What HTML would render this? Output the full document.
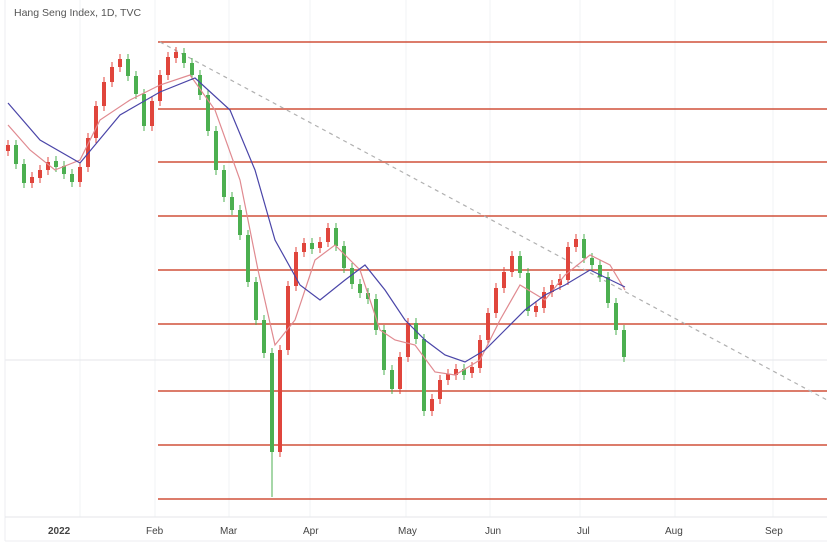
<!DOCTYPE html>
<html><head><meta charset="utf-8"><style>
body{margin:0;background:#fff;width:827px;height:551px;overflow:hidden;font-family:"Liberation Sans",sans-serif}
</style></head><body>
<svg width="827" height="551" xmlns="http://www.w3.org/2000/svg">
<rect x="0" y="0" width="827" height="551" fill="#fff"/>
<g stroke="#f0f3f6" stroke-width="1">
<line x1="80" y1="0" x2="80" y2="517"/><line x1="155" y1="0" x2="155" y2="517"/><line x1="229" y1="0" x2="229" y2="517"/><line x1="310" y1="0" x2="310" y2="517"/><line x1="406" y1="0" x2="406" y2="517"/><line x1="490" y1="0" x2="490" y2="517"/><line x1="580" y1="0" x2="580" y2="517"/><line x1="675" y1="0" x2="675" y2="517"/><line x1="773" y1="0" x2="773" y2="517"/>
</g>
<line x1="5" y1="360" x2="827" y2="360" stroke="#e4e6ea" stroke-width="1"/>
<line x1="5" y1="0" x2="5" y2="541" stroke="#eceef1"/>
<line x1="5" y1="517" x2="827" y2="517" stroke="#e4e6ea"/>
<line x1="5" y1="541" x2="827" y2="541" stroke="#eceef1"/>
<g stroke="#d0503a" stroke-width="1.6">
<line x1="158" y1="42" x2="827" y2="42"/><line x1="158" y1="109" x2="827" y2="109"/><line x1="158" y1="162" x2="827" y2="162"/><line x1="158" y1="216" x2="827" y2="216"/><line x1="158" y1="270" x2="827" y2="270"/><line x1="158" y1="324" x2="827" y2="324"/><line x1="158" y1="391" x2="827" y2="391"/><line x1="158" y1="445" x2="827" y2="445"/><line x1="158" y1="499" x2="827" y2="499"/>
</g>
<line x1="160" y1="42" x2="827" y2="400" stroke="#b0b0b0" stroke-width="1.2" stroke-dasharray="4,4"/>
<path fill="none" stroke="#e0453c" stroke-width="1" d="M8,140V156 M32,172V188 M40,165V183 M48,157V175 M80,162V187 M88,133V172 M96,101V143 M104,77V111 M112,62V87 M120,54V72 M152,96V131 M160,70V106 M168,52V80 M176,47V63 M280,345V457 M288,281V355 M296,247V291 M304,238V257 M320,237V253 M328,223V247 M400,352V394 M408,318V362 M432,394V416 M440,375V404 M448,369V385 M456,364V380 M472,362V378 M480,335V373 M488,308V345 M496,283V318 M504,267V293 M512,251V277 M536,301V317 M544,287V313 M552,280V297 M560,274V290 M568,242V285 M576,234V252"/>
<path fill="none" stroke="#4caf50" stroke-width="1" d="M16,140V169 M24,159V188 M56,156V172 M64,161V179 M72,169V187 M128,54V81 M136,71V99 M144,89V131 M184,48V68 M192,58V80 M200,70V100 M208,90V136 M216,126V175 M224,165V202 M232,192V215 M240,205V240 M248,230V287 M256,277V325 M264,315V358 M272,348V497 M312,238V254 M336,223V251 M344,241V273 M352,263V289 M360,279V298 M368,288V304 M376,294V335 M384,325V375 M392,365V394 M416,318V344 M424,334V416 M464,364V380 M520,251V278 M528,268V316 M584,234V263 M592,253V270 M600,260V282 M608,272V308 M616,298V335 M624,325V362"/>
<g fill="#e0453c">
<rect x="6" y="145" width="4" height="6"/><rect x="30" y="177" width="4" height="6"/><rect x="38" y="170" width="4" height="8"/><rect x="46" y="162" width="4" height="8"/><rect x="78" y="167" width="4" height="15"/><rect x="86" y="138" width="4" height="29"/><rect x="94" y="106" width="4" height="32"/><rect x="102" y="82" width="4" height="24"/><rect x="110" y="67" width="4" height="15"/><rect x="118" y="59" width="4" height="8"/><rect x="150" y="101" width="4" height="25"/><rect x="158" y="75" width="4" height="26"/><rect x="166" y="57" width="4" height="18"/><rect x="174" y="52" width="4" height="6"/><rect x="278" y="350" width="4" height="102"/><rect x="286" y="286" width="4" height="64"/><rect x="294" y="252" width="4" height="34"/><rect x="302" y="243" width="4" height="9"/><rect x="318" y="242" width="4" height="6"/><rect x="326" y="228" width="4" height="14"/><rect x="398" y="357" width="4" height="32"/><rect x="406" y="323" width="4" height="34"/><rect x="430" y="399" width="4" height="12"/><rect x="438" y="380" width="4" height="19"/><rect x="446" y="374" width="4" height="6"/><rect x="454" y="369" width="4" height="6"/><rect x="470" y="367" width="4" height="6"/><rect x="478" y="340" width="4" height="28"/><rect x="486" y="313" width="4" height="27"/><rect x="494" y="288" width="4" height="25"/><rect x="502" y="272" width="4" height="16"/><rect x="510" y="256" width="4" height="16"/><rect x="534" y="306" width="4" height="6"/><rect x="542" y="292" width="4" height="16"/><rect x="550" y="285" width="4" height="7"/><rect x="558" y="279" width="4" height="6"/><rect x="566" y="247" width="4" height="33"/><rect x="574" y="239" width="4" height="8"/>
</g>
<g fill="#4caf50">
<rect x="14" y="145" width="4" height="19"/><rect x="22" y="164" width="4" height="19"/><rect x="54" y="161" width="4" height="6"/><rect x="62" y="166" width="4" height="8"/><rect x="70" y="174" width="4" height="8"/><rect x="126" y="59" width="4" height="17"/><rect x="134" y="76" width="4" height="18"/><rect x="142" y="94" width="4" height="32"/><rect x="182" y="53" width="4" height="10"/><rect x="190" y="63" width="4" height="12"/><rect x="198" y="75" width="4" height="20"/><rect x="206" y="95" width="4" height="36"/><rect x="214" y="131" width="4" height="39"/><rect x="222" y="170" width="4" height="27"/><rect x="230" y="197" width="4" height="13"/><rect x="238" y="210" width="4" height="25"/><rect x="246" y="235" width="4" height="47"/><rect x="254" y="282" width="4" height="38"/><rect x="262" y="320" width="4" height="33"/><rect x="270" y="353" width="4" height="99"/><rect x="310" y="243" width="4" height="6"/><rect x="334" y="228" width="4" height="18"/><rect x="342" y="246" width="4" height="22"/><rect x="350" y="268" width="4" height="16"/><rect x="358" y="284" width="4" height="9"/><rect x="366" y="293" width="4" height="6"/><rect x="374" y="299" width="4" height="31"/><rect x="382" y="330" width="4" height="40"/><rect x="390" y="370" width="4" height="19"/><rect x="414" y="323" width="4" height="16"/><rect x="422" y="339" width="4" height="72"/><rect x="462" y="369" width="4" height="6"/><rect x="518" y="256" width="4" height="17"/><rect x="526" y="273" width="4" height="38"/><rect x="582" y="239" width="4" height="19"/><rect x="590" y="258" width="4" height="7"/><rect x="598" y="265" width="4" height="12"/><rect x="606" y="277" width="4" height="26"/><rect x="614" y="303" width="4" height="27"/><rect x="622" y="330" width="4" height="27"/>
</g>
<polyline fill="none" stroke="#e08a90" stroke-width="1.2" points="8,125 30,150 55,170 80,160 100,120 130,100 160,85 190,75 215,110 240,180 258,270 275,345 295,320 315,260 335,245 360,270 380,330 395,340 415,345 435,372 455,375 480,360 500,320 520,285 545,300 565,275 590,255 610,265 625,290"/>
<polyline fill="none" stroke="#4a45a8" stroke-width="1.2" points="8,103 40,140 80,163 120,115 160,92 195,78 230,110 255,170 275,240 300,285 320,300 345,280 365,265 385,290 405,320 425,340 445,355 465,362 485,350 505,330 525,310 545,295 565,285 590,270 625,287"/>
<text x="14" y="16" font-size="10.5" fill="#555">Hang Seng Index, 1D, TVC</text>
<g font-size="10" fill="#444">
<text x="48" y="534" font-weight="bold">2022</text><text x="146" y="534">Feb</text><text x="220" y="534">Mar</text><text x="303" y="534">Apr</text><text x="398" y="534">May</text><text x="485" y="534">Jun</text><text x="577" y="534">Jul</text><text x="665" y="534">Aug</text><text x="765" y="534">Sep</text>
</g>
</svg>
</body></html>
